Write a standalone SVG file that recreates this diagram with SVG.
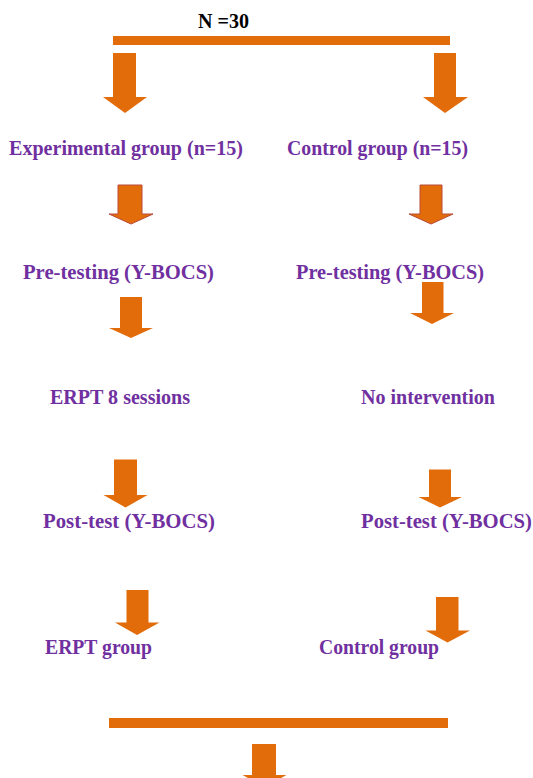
<svg xmlns="http://www.w3.org/2000/svg" width="533" height="778" viewBox="0 0 533 778">
<style>
.t{font-family:"Liberation Serif","Times New Roman",serif;font-weight:bold;font-size:20px;fill:#7030A0}
.n{font-family:"Liberation Serif","Times New Roman",serif;font-weight:bold;font-size:20px;fill:#000}
.bar{fill:#E36C0A}
.arr{fill:#E36C0A}
.arr2{fill:#E36C0A;stroke:#B84A3A;stroke-width:1}
</style>
<rect width="533" height="778" fill="#fff"/>
<g id="title"><text class="n" x="198" y="28" textLength="51" lengthAdjust="spacingAndGlyphs">N =30</text></g>
<g id="connectors">
<rect class="bar" x="113" y="36" width="337" height="9"/>
<path class="arr" d="M113,53H136V97H147L125,113L103,97H113Z"/>
<path class="arr" d="M434,53H456V97H468L445,113L423,97H434Z"/>
<path class="arr2" d="M118,185H142V214H153L131,224L109,214H118Z"/>
<path class="arr2" d="M420,185H442V214H453L431,224L409,214H420Z"/>
<path class="arr" d="M120,297H142V328H153L131,338L109,328H120Z"/>
<path class="arr" d="M422,282H443.5V313H454L432,324L410,313H422Z"/>
<path class="arr" d="M114,459.5H137V495H147.5L125.5,507.5L103.5,495H114Z"/>
<path class="arr" d="M429,469.5H451V497H462L440,507.5L418.5,497H429Z"/>
<path class="arr" d="M126.5,590H148.5V622.5H159.5L137,635L115,622.5H126.5Z"/>
<path class="arr" d="M436,597H458.5V630.5H470L447.5,642.5L425.5,630.5H436Z"/>
<rect class="bar" x="109" y="718" width="339" height="10"/>
<path class="arr" d="M252,744H276V775H286.5L264.5,787L242.5,775H252Z"/>
</g>
<g id="exp"><text class="t" x="9" y="155" textLength="234" lengthAdjust="spacingAndGlyphs">Experimental group  (n=15)</text></g>
<g id="ctrl"><text class="t" x="287" y="155" textLength="181" lengthAdjust="spacingAndGlyphs">Control group  (n=15)</text></g>
<g id="pre-exp"><text class="t" x="23" y="279" textLength="191" lengthAdjust="spacingAndGlyphs">Pre-testing (Y-BOCS)</text></g>
<g id="pre-ctrl"><text class="t" x="296" y="279" textLength="188" lengthAdjust="spacingAndGlyphs">Pre-testing (Y-BOCS)</text></g>
<g id="erpt"><text class="t" x="50" y="404" textLength="140" lengthAdjust="spacingAndGlyphs">ERPT 8 sessions</text></g>
<g id="noint"><text class="t" x="361" y="404" textLength="134" lengthAdjust="spacingAndGlyphs">No intervention</text></g>
<g id="post-exp"><text class="t" x="43" y="528" textLength="172" lengthAdjust="spacingAndGlyphs">Post-test (Y-BOCS)</text></g>
<g id="post-ctrl"><text class="t" x="361" y="528" textLength="171" lengthAdjust="spacingAndGlyphs">Post-test (Y-BOCS)</text></g>
<g id="erpt-group"><text class="t" x="45" y="654" textLength="107" lengthAdjust="spacingAndGlyphs">ERPT group</text></g>
<g id="ctrl-group"><text class="t" x="319" y="654" textLength="120" lengthAdjust="spacingAndGlyphs">Control group</text></g>
</svg>
